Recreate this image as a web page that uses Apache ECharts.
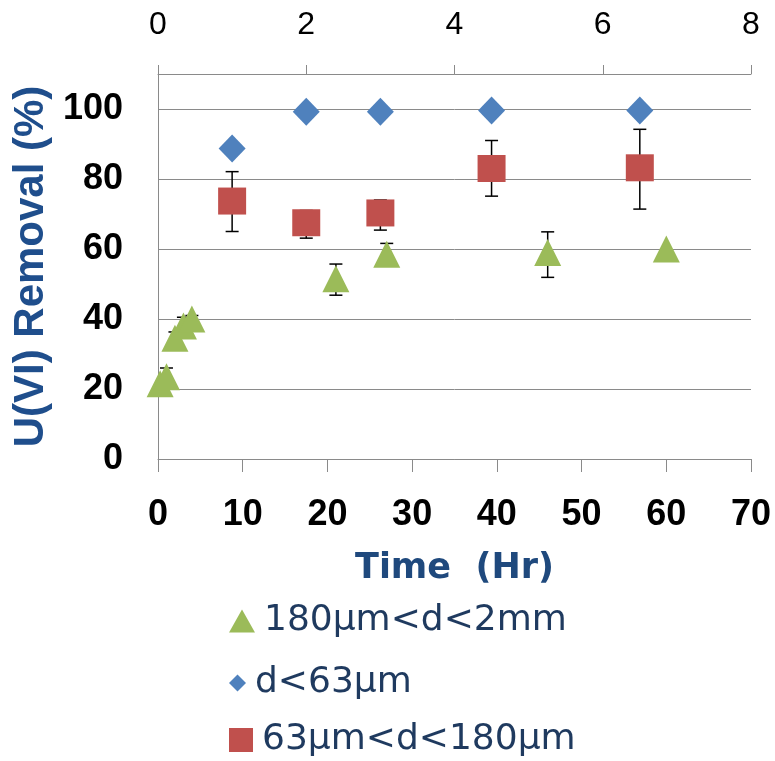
<!DOCTYPE html>
<html>
<head>
<meta charset="utf-8">
<script src="https://cdn.jsdelivr.net/npm/echarts@6/dist/echarts.min.js"></script>
<style>html,body{margin:0;padding:0;background:#fff;}#c{width:775px;height:761px;}</style>
</head>
<body>
<div id="c"></div>
<script>
// Series names
const nameTri = '180μm<d<2mm';
const nameDia = 'd<63μm';
const nameSq = '63μm<d<180μm';

// Bottom axis (Time, Hr) series: 180μm<d<2mm
const triX = [0.25, 1.0, 2.0, 3.0, 4.0, 21, 27, 46, 60];
const triY = [21.5, 23.5, 34.5, 38, 40, 51.5, 58.5, 59, 60];
const triLo = [21.5, 21.5, 33, 36.5, 39, 46.8, 56, 51.9, 60];
const triHi = [21.5, 26, 36.3, 40.5, 41, 55.7, 61.6, 64.9, 60];

// Top axis series: d<63μm
const diaX = [1, 2, 3, 4.5, 6.5];
const diaY = [88.7, 99.2, 99.2, 99.6, 99.6];

// Top axis series: 63μm<d<180μm
const sqX = [1, 2, 3, 4.5, 6.5];
const sqY = [73.7, 67.5, 70.3, 83, 83.2];
const sqLo = [65, 63.1, 65.4, 75.1, 71.4];
const sqHi = [82.1, 71, 74, 91, 94.2];

// Axis ticks
const bottomTicks = { min: 0, max: 70, interval: 10 };
const topTicks = { min: 0, max: 8, interval: 2 };
const yTicks = { min: 0, max: 110, interval: 20 };

const pts = (xs, ys) => xs.map((x, i) => [x, ys[i]]);
const errs = (xs, lo, hi) => xs.map((x, i) => [x, lo[i], hi[i]]);

const GRAY = '#8a8a8a';
const GREEN = '#9bbb59', BLUE = '#4f81bd', RED = '#c0504d';
const NAVY = '#1f497d';

function errRender(params, api) {
  const x = api.value(0), lo = api.value(1), hi = api.value(2);
  if (hi - lo <= 0) return null;
  const a = api.coord([x, lo]);
  const b = api.coord([x, hi]);
  const cap = 6.5;
  const st = { stroke: '#000', lineWidth: 1.5 };
  return {
    type: 'group',
    children: [
      { type: 'line', shape: { x1: a[0], y1: a[1], x2: b[0], y2: b[1] }, style: st },
      { type: 'line', shape: { x1: a[0] - cap, y1: a[1], x2: a[0] + cap, y2: a[1] }, style: st },
      { type: 'line', shape: { x1: b[0] - cap, y1: b[1], x2: b[0] + cap, y2: b[1] }, style: st }
    ]
  };
}

const chart = echarts.init(document.getElementById('c'), null, { renderer: 'canvas' });
const legendBase = (name, icon, left, top, w, h) => ({
  data: [{ name: name, icon: icon }],
  orient: 'vertical', left: left, top: top,
  itemWidth: w, itemHeight: h, itemGap: 0, padding: 0,
  selectedMode: false,
  textStyle: { fontFamily: 'DejaVu Sans', fontSize: 36, color: '#1f3a5f', padding: [0, 0, 0, 4] }
});

chart.setOption({
  animation: false,
  backgroundColor: '#fff',
  grid: { left: 158, right: 24, top: 74, bottom: 302, containLabel: false, outerBoundsMode: 'none' },
  legend: [
    legendBase(nameTri, 'triangle', 229, 603, 26, 23),
    legendBase(nameDia, 'diamond', 229, 665, 17, 17),
    legendBase(nameSq, 'rect', 229, 722, 24, 24)
  ],
  xAxis: [
    {
      type: 'value', position: 'bottom',
      min: bottomTicks.min, max: bottomTicks.max, interval: bottomTicks.interval,
      name: 'Time  (Hr)', nameLocation: 'middle', nameGap: 92,
      nameTextStyle: { fontFamily: 'DejaVu Sans', fontWeight: 'bold', fontSize: 35, color: NAVY },
      axisLine: { show: true, lineStyle: { color: GRAY, width: 1 } },
      axisTick: { show: true, inside: false, length: 13, lineStyle: { color: GRAY } },
      axisLabel: { margin: 38, fontFamily: 'Liberation Sans', fontWeight: 'bold', fontSize: 36, color: '#000' },
      splitLine: { show: false }
    },
    {
      type: 'value', position: 'top',
      min: topTicks.min, max: topTicks.max, interval: topTicks.interval,
      axisLine: { show: true, lineStyle: { color: GRAY, width: 1 } },
      axisTick: { show: true, inside: false, length: 9, lineStyle: { color: GRAY } },
      axisLabel: { margin: 33, fontFamily: 'Liberation Sans', fontSize: 32, color: '#000' },
      splitLine: { show: false }
    }
  ],
  yAxis: {
    type: 'value', min: yTicks.min, max: yTicks.max, interval: yTicks.interval,
    name: 'U(VI) Removal (%)', nameLocation: 'middle', nameGap: 100,
    nameTextStyle: { fontFamily: 'Liberation Sans', fontWeight: 'bold', fontSize: 42, color: '#1f4e8c' },
    axisLine: { show: true, lineStyle: { color: GRAY, width: 1 } },
    axisTick: { show: false },
    axisLabel: {
      margin: 35, fontFamily: 'Liberation Sans', fontWeight: 'bold', fontSize: 36, color: '#000',
      formatter: v => (v > 100 ? '' : String(v))
    },
    splitLine: { show: true, lineStyle: { color: GRAY, width: 1 } }
  },
  series: [
    {
      type: 'custom', name: 'errTri', xAxisIndex: 0, yAxisIndex: 0, z: 1,
      renderItem: errRender, encode: { x: 0, y: [1, 2] },
      data: errs(triX, triLo, triHi), silent: true
    },
    {
      type: 'custom', name: 'errSq', xAxisIndex: 1, yAxisIndex: 0, z: 1,
      renderItem: errRender, encode: { x: 0, y: [1, 2] },
      data: errs(sqX, sqLo, sqHi), silent: true
    },
    {
      type: 'scatter', name: nameTri, xAxisIndex: 0, yAxisIndex: 0, z: 3,
      symbol: 'triangle', symbolSize: [27, 27],
      itemStyle: { color: GREEN, opacity: 1 },
      data: pts(triX, triY)
    },
    {
      type: 'scatter', name: nameDia, xAxisIndex: 1, yAxisIndex: 0, z: 3,
      symbol: 'diamond', symbolSize: [27, 28],
      itemStyle: { color: BLUE, opacity: 1 },
      data: pts(diaX, diaY)
    },
    {
      type: 'scatter', name: nameSq, xAxisIndex: 1, yAxisIndex: 0, z: 3,
      symbol: 'rect', symbolSize: [28, 27],
      itemStyle: { color: RED, opacity: 1 },
      data: pts(sqX, sqY)
    }
  ]
});
</script>
</body>
</html>
